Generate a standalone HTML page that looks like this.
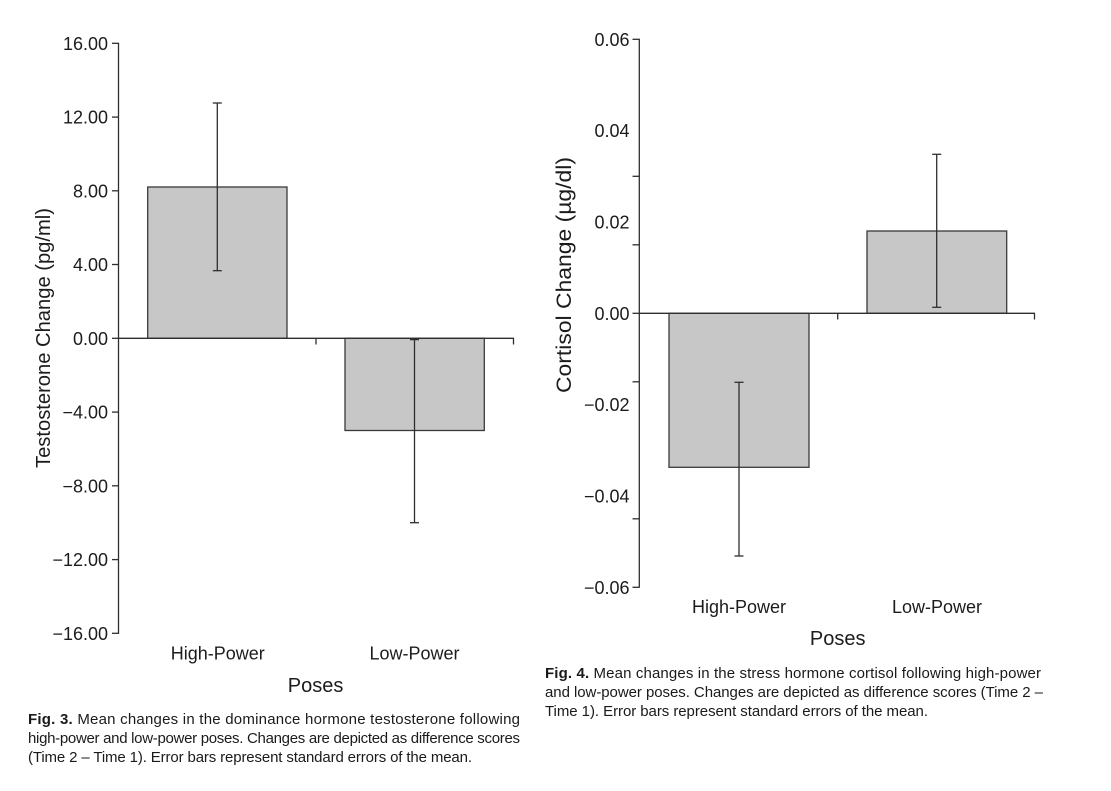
<!DOCTYPE html>
<html>
<head>
<meta charset="utf-8">
<style>
  html, body { margin: 0; padding: 0; background: #ffffff; }
  body { width: 1111px; height: 791px; overflow: hidden; }
  svg { display: block; }
  .tick { font-family: "Liberation Sans", Arial, sans-serif; font-size: 18px; fill: #1c1c1c; }
  .cat { font-family: "Liberation Sans", Arial, sans-serif; font-size: 18px; fill: #1c1c1c; }
  .ttl { font-family: "Liberation Sans", Arial, sans-serif; font-size: 20px; fill: #1c1c1c; }
  .cap { font-family: "Liberation Sans", Arial, sans-serif; font-size: 15px; fill: #1a1a1a; }
  .ln { stroke: #2e2e2e; stroke-width: 1.3; fill: none; }
  .bar { fill: #c7c7c7; stroke: #3a3a3a; stroke-width: 1.3; }
</style>
</head>
<body>
<svg width="1111" height="791" viewBox="0 0 1111 791" xmlns="http://www.w3.org/2000/svg">

  <!-- ================= LEFT CHART (Fig. 3) ================= -->
  <rect class="bar" x="147.7" y="187" width="139.3" height="151.3"/>
  <rect class="bar" x="345" y="338.3" width="139.3" height="92.2"/>

  <line class="ln" x1="118.5" y1="42.7" x2="118.5" y2="634"/>
  <line class="ln" x1="118.5" y1="338.3" x2="514" y2="338.3"/>
  <line class="ln" x1="316" y1="338.3" x2="316" y2="344.5"/>
  <line class="ln" x1="513.5" y1="338.3" x2="513.5" y2="344.5"/>
  <line class="ln" x1="112" y1="43.3" x2="118.5" y2="43.3"/>
  <line class="ln" x1="112" y1="117.1" x2="118.5" y2="117.1"/>
  <line class="ln" x1="112" y1="190.8" x2="118.5" y2="190.8"/>
  <line class="ln" x1="112" y1="264.5" x2="118.5" y2="264.5"/>
  <line class="ln" x1="112" y1="338.3" x2="118.5" y2="338.3"/>
  <line class="ln" x1="112" y1="412.1" x2="118.5" y2="412.1"/>
  <line class="ln" x1="112" y1="485.8" x2="118.5" y2="485.8"/>
  <line class="ln" x1="112" y1="559.6" x2="118.5" y2="559.6"/>
  <line class="ln" x1="112" y1="633.3" x2="118.5" y2="633.3"/>

  <g class="tick" text-anchor="end">
    <text x="108" y="49.8">16.00</text>
    <text x="108" y="123.6">12.00</text>
    <text x="108" y="197.3">8.00</text>
    <text x="108" y="271">4.00</text>
    <text x="108" y="344.8">0.00</text>
    <text x="108" y="418.6">−4.00</text>
    <text x="108" y="492.3">−8.00</text>
    <text x="108" y="566.1">−12.00</text>
    <text x="108" y="639.8">−16.00</text>
  </g>

  <line class="ln" x1="217.3" y1="103" x2="217.3" y2="270.7"/>
  <line class="ln" x1="212.8" y1="103" x2="221.8" y2="103"/>
  <line class="ln" x1="212.8" y1="270.7" x2="221.8" y2="270.7"/>

  <line class="ln" x1="414.5" y1="339.3" x2="414.5" y2="522.7"/>
  <line class="ln" x1="410" y1="339.6" x2="419" y2="339.6"/>
  <line class="ln" x1="410" y1="522.7" x2="419" y2="522.7"/>

  <text class="cat" x="217.8" y="659.5" text-anchor="middle">High-Power</text>
  <text class="cat" x="414.5" y="659.5" text-anchor="middle">Low-Power</text>
  <text class="ttl" x="315.6" y="692" text-anchor="middle">Poses</text>

  <text class="ttl" x="0" y="0" text-anchor="middle" textLength="260" lengthAdjust="spacingAndGlyphs"
        transform="translate(50,338) rotate(-90)">Testosterone Change (pg/ml)</text>

  <text class="cap" x="28" y="724" textLength="492" lengthAdjust="spacing"><tspan font-weight="bold">Fig. 3.</tspan> Mean changes in the dominance hormone testosterone following</text>
  <text class="cap" x="28" y="743" textLength="492" lengthAdjust="spacing">high-power and low-power poses. Changes are depicted as difference scores</text>
  <text class="cap" x="28" y="762" textLength="444" lengthAdjust="spacing">(Time 2 – Time 1). Error bars represent standard errors of the mean.</text>

  <!-- ================= RIGHT CHART (Fig. 4) ================= -->
  <rect class="bar" x="669" y="313.3" width="140" height="154"/>
  <rect class="bar" x="867" y="231" width="139.7" height="82.3"/>

  <line class="ln" x1="639.3" y1="38.8" x2="639.3" y2="587.8"/>
  <line class="ln" x1="639.3" y1="313.3" x2="1035" y2="313.3"/>
  <line class="ln" x1="837.7" y1="313.3" x2="837.7" y2="319.5"/>
  <line class="ln" x1="1034.5" y1="313.3" x2="1034.5" y2="319.5"/>
  <line class="ln" x1="632.5" y1="39.3" x2="639.3" y2="39.3"/>
  <line class="ln" x1="632.5" y1="176.3" x2="639.3" y2="176.3"/>
  <line class="ln" x1="632.5" y1="244.8" x2="639.3" y2="244.8"/>
  <line class="ln" x1="632.5" y1="313.3" x2="639.3" y2="313.3"/>
  <line class="ln" x1="632.5" y1="381.8" x2="639.3" y2="381.8"/>
  <line class="ln" x1="632.5" y1="518.8" x2="639.3" y2="518.8"/>
  <line class="ln" x1="632.5" y1="587.3" x2="639.3" y2="587.3"/>

  <g class="tick" text-anchor="end">
    <text x="629.5" y="45.8">0.06</text>
    <text x="629.5" y="137.1">0.04</text>
    <text x="629.5" y="228.5">0.02</text>
    <text x="629.5" y="319.8">0.00</text>
    <text x="629.5" y="411.1">−0.02</text>
    <text x="629.5" y="502.5">−0.04</text>
    <text x="629.5" y="593.8">−0.06</text>
  </g>

  <line class="ln" x1="739" y1="382.3" x2="739" y2="556"/>
  <line class="ln" x1="734.5" y1="382.3" x2="743.5" y2="382.3"/>
  <line class="ln" x1="734.5" y1="556" x2="743.5" y2="556"/>

  <line class="ln" x1="936.7" y1="154.3" x2="936.7" y2="307.3"/>
  <line class="ln" x1="932.2" y1="154.3" x2="941.2" y2="154.3"/>
  <line class="ln" x1="932.2" y1="307.3" x2="941.2" y2="307.3"/>

  <text class="cat" x="739" y="613" text-anchor="middle">High-Power</text>
  <text class="cat" x="937" y="613" text-anchor="middle">Low-Power</text>
  <text class="ttl" x="837.7" y="645" text-anchor="middle">Poses</text>

  <text class="ttl" x="0" y="0" text-anchor="middle" textLength="236" lengthAdjust="spacingAndGlyphs"
        style="font-size:21.5px" transform="translate(571,275) rotate(-90)">Cortisol Change (µg/dl)</text>

  <text class="cap" x="545" y="678" textLength="496" lengthAdjust="spacing"><tspan font-weight="bold">Fig. 4.</tspan> Mean changes in the stress hormone cortisol following high-power</text>
  <text class="cap" x="545" y="697" textLength="498" lengthAdjust="spacing">and low-power poses. Changes are depicted as difference scores (Time 2 –</text>
  <text class="cap" x="545" y="716" textLength="383" lengthAdjust="spacing">Time 1). Error bars represent standard errors of the mean.</text>

</svg>
</body>
</html>
